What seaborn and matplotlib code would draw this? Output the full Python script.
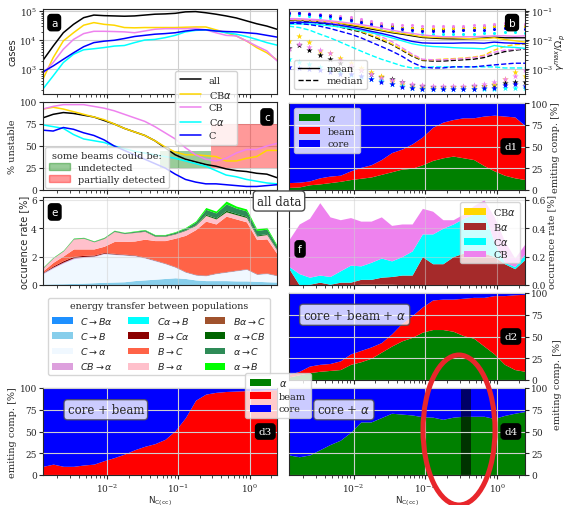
import matplotlib
matplotlib.use('Agg')
from matplotlib import pyplot as plt
from matplotlib.patches import Ellipse, Patch
from matplotlib.lines import Line2D
import seaborn as sns
import numpy as np

sns.set_style('ticks')
plt.rcParams['font.family'] = ['DejaVu Serif']
plt.rcParams['font.size'] = 7
plt.rcParams['xtick.labelsize'] = 6.5
plt.rcParams['ytick.labelsize'] = 6.5
plt.rcParams['xtick.major.size'] = 3
plt.rcParams['ytick.major.size'] = 3
plt.rcParams['xtick.minor.size'] = 1.8
plt.rcParams['ytick.minor.size'] = 1.8
plt.rcParams['xtick.major.pad'] = 1.5
plt.rcParams['ytick.major.pad'] = 1.5
plt.rcParams['legend.fontsize'] = 7
plt.rcParams['axes.labelpad'] = 1.5
plt.rcParams['grid.color'] = '#cfcfcf'
plt.rcParams['grid.linewidth'] = 0.8

# ---- data -------------------------------------------------------------
nc = [0.00126, 0.00175, 0.00243, 0.00338, 0.00469, 0.00652, 0.00906, 0.0126,
      0.0175, 0.0243, 0.0338, 0.0469, 0.0652, 0.0906, 0.126, 0.175, 0.243,
      0.338, 0.469, 0.652, 0.906, 1.26, 1.75, 2.43]

pops = ['all', 'CB$\\alpha$', 'CB', 'C$\\alpha$', 'C']
pop_colors = ['black', 'gold', 'violet', 'cyan', 'blue']

# (a) number of cases
cases_all = [2040, 6300, 18200, 35500, 60300, 74100, 70800, 69200, 67600, 69200, 74100, 79400,
             81300, 85100, 95500, 97700, 89100, 79400, 69200, 58900, 46800, 37200, 30900, 24000]
cases_CBa = [460, 2500, 9500, 18200, 33100, 40700, 35500, 33100, 27500, 26900, 27500, 27500,
             27500, 27500, 28200, 28800, 28800, 22900, 18200, 14100, 9500, 5600, 3700, 2100]
cases_CB = [720, 1700, 4900, 10700, 17000, 20400, 20400, 20000, 19500, 18200, 20900, 24000,
            25100, 25100, 25100, 25700, 22900, 18200, 14800, 14100, 9500, 6300, 4300, 1950]
cases_Ca = [210, 590, 1700, 3300, 4700, 5100, 5600, 6300, 6600, 8300, 10200, 10700,
            12300, 14800, 19500, 21900, 22900, 20900, 18200, 16200, 13500, 10700, 8300, 6800]
cases_C = [810, 1300, 2200, 3700, 6000, 8300, 9300, 10000, 11500, 13500, 14800, 16200,
           17000, 18200, 20900, 22900, 22900, 20900, 20000, 19500, 18200, 17000, 14800, 12900]

# (b) growth rate gamma_max / Omega_p : mean, median, max (dots), min (stars)
g_mean_all = [0.050, 0.049, 0.047, 0.044, 0.040, 0.036, 0.032, 0.028, 0.024, 0.021, 0.018, 0.016,
              0.014, 0.0123, 0.0117, 0.0112, 0.011, 0.011, 0.0112, 0.0117, 0.0126, 0.012, 0.012, 0.012]
g_mean_CBa = [0.052, 0.051, 0.049, 0.046, 0.042, 0.038, 0.034, 0.030, 0.026, 0.022, 0.019, 0.017,
              0.015, 0.013, 0.0125, 0.012, 0.012, 0.0115, 0.011, 0.0112, 0.012, 0.0105, 0.0095, 0.0085]
g_mean_CB = [0.055, 0.054, 0.052, 0.050, 0.046, 0.042, 0.038, 0.034, 0.030, 0.026, 0.022, 0.019,
             0.017, 0.015, 0.014, 0.013, 0.013, 0.013, 0.013, 0.0135, 0.014, 0.014, 0.0135, 0.014]
g_mean_Ca = [0.035, 0.036, 0.036, 0.034, 0.031, 0.028, 0.025, 0.021, 0.018, 0.015, 0.012, 0.0095,
             0.0075, 0.0065, 0.006, 0.0058, 0.0055, 0.0053, 0.0052, 0.0050, 0.0065, 0.0058, 0.0056, 0.0052]
g_mean_C = [0.040, 0.041, 0.041, 0.039, 0.036, 0.032, 0.028, 0.024, 0.020, 0.017, 0.014, 0.011,
            0.0090, 0.0080, 0.0078, 0.0078, 0.0078, 0.0080, 0.0080, 0.0078, 0.0085, 0.0080, 0.0078, 0.0075]

g_med_all = [0.047, 0.046, 0.043, 0.038, 0.033, 0.028, 0.023, 0.019, 0.014, 0.010, 0.0071, 0.0045,
             0.0028, 0.0020, 0.0019, 0.0019, 0.0020, 0.0021, 0.0022, 0.0025, 0.0032, 0.0040, 0.0045, 0.0049]
g_med_CBa = [0.050, 0.049, 0.046, 0.041, 0.036, 0.030, 0.025, 0.020, 0.015, 0.011, 0.0075, 0.0048,
             0.0030, 0.0021, 0.0021, 0.0022, 0.0023, 0.0024, 0.0026, 0.0030, 0.0045, 0.0060, 0.0070, 0.0072]
g_med_CB = [0.052, 0.051, 0.049, 0.045, 0.040, 0.034, 0.028, 0.023, 0.018, 0.013, 0.0090, 0.0055,
            0.0033, 0.0022, 0.0021, 0.0021, 0.0022, 0.0023, 0.0025, 0.0028, 0.0038, 0.0045, 0.0048, 0.0050]
g_med_Ca = [0.030, 0.027, 0.022, 0.016, 0.012, 0.0085, 0.0060, 0.0042, 0.0030, 0.0022, 0.0017, 0.0013,
            0.0011, 0.0011, 0.0012, 0.0012, 0.0012, 0.0012, 0.0012, 0.0012, 0.0012, 0.0011, 0.0011, 0.0011]
g_med_C = [0.038, 0.037, 0.034, 0.030, 0.025, 0.020, 0.016, 0.012, 0.0085, 0.006, 0.0042, 0.0028,
           0.0017, 0.0012, 0.0011, 0.0011, 0.0012, 0.0012, 0.0012, 0.0013, 0.0014, 0.0015, 0.0016, 0.0016]

g_max_all = [0.085, 0.085, 0.080, 0.075, 0.070, 0.062, 0.055, 0.047, 0.040, 0.035, 0.030, 0.027,
             0.025, 0.024, 0.024, 0.024, 0.025, 0.026, 0.026, 0.028, 0.030, 0.031, 0.031, 0.031]
g_max_CBa = [0.080, 0.080, 0.076, 0.072, 0.066, 0.060, 0.052, 0.045, 0.038, 0.033, 0.029, 0.027,
             0.025, 0.024, 0.025, 0.026, 0.027, 0.027, 0.027, 0.028, 0.030, 0.031, 0.031, 0.030]
g_max_CB = [0.090, 0.088, 0.085, 0.080, 0.075, 0.068, 0.060, 0.052, 0.045, 0.040, 0.036, 0.033,
            0.032, 0.031, 0.030, 0.030, 0.030, 0.031, 0.032, 0.034, 0.036, 0.038, 0.038, 0.037]
g_max_Ca = [0.075, 0.072, 0.068, 0.064, 0.058, 0.052, 0.045, 0.038, 0.032, 0.026, 0.022, 0.019,
            0.017, 0.016, 0.016, 0.016, 0.016, 0.016, 0.016, 0.017, 0.018, 0.019, 0.019, 0.018]
g_max_C = [0.085, 0.082, 0.078, 0.072, 0.066, 0.058, 0.050, 0.043, 0.036, 0.031, 0.027, 0.024,
           0.022, 0.021, 0.021, 0.021, 0.021, 0.022, 0.022, 0.023, 0.024, 0.025, 0.025, 0.024]

g_min_all = [0.0055, 0.0068, 0.0045, 0.0030, 0.0022, 0.0016, 0.0012, 0.0009, 0.0007, 0.00055, 0.00045, 0.00035,
             0.00029, 0.00026, 0.00025, 0.00025, 0.00025, 0.00025, 0.00026, 0.00027, 0.00029, 0.00033, 0.00036, 0.00036]
g_min_CBa = [0.0095, 0.014, 0.0083, 0.0043, 0.0035, 0.0025, 0.00166, 0.00112, 0.00079, 0.00056, 0.0004, 0.0003,
             0.00025, 0.00023, 0.00023, 0.00023, 0.00024, 0.00024, 0.00025, 0.00026, 0.00032, 0.00046, 0.0008, 0.00059]
g_min_CB = [0.0050, 0.0075, 0.0060, 0.0045, 0.0035, 0.0020, 0.0014, 0.00095, 0.0007, 0.0005, 0.00042, 0.00035,
            0.0003, 0.00028, 0.00027, 0.00027, 0.00027, 0.00027, 0.00028, 0.0003, 0.00035, 0.00045, 0.0006, 0.0009]
g_min_Ca = [0.0022, 0.0018, 0.0015, 0.0012, 0.0010, 0.0008, 0.00065, 0.00055, 0.00045, 0.00038, 0.00032, 0.00027,
            0.00022, 0.0002, 0.0002, 0.0002, 0.0002, 0.0002, 0.0002, 0.0002, 0.00021, 0.00022, 0.00022, 0.00022]
g_min_C = [0.0012, 0.0011, 0.0010, 0.0009, 0.0008, 0.0007, 0.0007, 0.0006, 0.00045, 0.00035, 0.0003, 0.00025,
           0.00022, 0.00021, 0.00021, 0.00021, 0.00021, 0.00021, 0.00021, 0.00022, 0.00023, 0.00028, 0.0003, 0.00026]

# (c) % unstable
unst_all = [82, 86, 88, 87, 85, 83, 79, 75, 70, 66, 62, 56, 48, 40, 35, 32, 29, 27, 24, 22, 21, 19, 18, 14]
unst_CBa = [92, 94, 92, 89, 86, 83, 80, 75, 70, 66, 62, 56, 49, 43, 40, 40, 39, 38, 33, 33, 36, 38, 45, 45]
unst_CB = [92, 95, 97, 97, 97, 95, 93, 90, 86, 82, 78, 72, 65, 58, 48, 40, 35, 33, 36, 42, 46, 46, 50, 53]
unst_Ca = [74, 72, 70, 63, 58, 56, 54, 50, 47, 44, 42, 40, 38, 36, 33, 30, 27, 22, 17, 15, 12, 10, 8, 7]
unst_C = [68, 67, 71, 69, 65, 62, 57, 50, 45, 40, 35, 30, 25, 18, 12, 9, 7, 7, 6, 5, 4, 4, 5, 6]
undetected_box = (0.056, 0.29, 25, 44)
partial_box = (0.29, 2.43, 25, 75)

# (d) emitting component [%]
d1_alpha = [3, 3.5, 6, 7, 8.5, 10, 12, 13.5, 15, 18, 21, 24, 25, 29, 34, 37, 39, 37, 35, 28, 22, 17, 14, 12]
d1_beam = [5.5, 5.5, 4.4, 7, 7.5, 7, 10, 12.5, 14, 17, 22, 23, 28, 32, 38, 41, 42, 46, 48, 57, 64, 68, 70, 62]
d2_alpha = [3.5, 6, 8.5, 10, 11, 12, 18, 21, 25, 32, 39, 45, 49, 55, 58, 58, 56, 51, 48, 39, 30, 18, 12, 10]
d2_beam = [3, 4, 7.5, 8, 8, 10, 12, 13, 13, 11, 14, 20, 25, 29, 34, 35, 37, 43, 47, 56, 67, 79, 86, 88.5]
d3_beam = [10, 12.5, 10, 10, 11.5, 12.5, 16.5, 20, 24, 29, 33, 36, 41, 51, 66, 86, 93, 95, 96, 96.5, 97, 97, 98, 98]
d4_alpha = [23, 21, 23, 29, 35, 40, 49, 61, 61, 66, 71, 70, 69, 67, 66.5, 64, 66.5, 67.5, 67.5, 67.5, 65, 68.5, 71, 73]
d4_band = (0.31, 0.43)

# (e) occurrence rate of energy transfer [%]
tr_labels = ['$C\\rightarrow B\\alpha$', '$C\\rightarrow B$', '$C\\rightarrow \\alpha$', '$CB\\rightarrow \\alpha$',
             '$C\\alpha\\rightarrow B$', '$B\\rightarrow C\\alpha$', '$B\\rightarrow C$', '$B\\rightarrow \\alpha$',
             '$B\\alpha\\rightarrow C$', '$\\alpha\\rightarrow CB$', '$\\alpha\\rightarrow C$', '$\\alpha\\rightarrow B$']
tr_colors = ['dodgerblue', 'skyblue', 'aliceblue', 'plum', 'cyan', 'darkred',
             'tomato', 'pink', 'sienna', 'darkgreen', 'seagreen', 'lime']
tr_C_Ba = [0.01, 0.01, 0.01, 0.01, 0.01, 0.01, 0.01, 0.01, 0.01, 0.01, 0.01, 0.01,
           0.01, 0.01, 0.01, 0.01, 0.01, 0.01, 0.01, 0.01, 0.01, 0.01, 0.01, 0.01]
tr_C_B = [0.05, 0.07, 0.08, 0.10, 0.12, 0.15, 0.18, 0.20, 0.22, 0.30, 0.35, 0.40,
          0.45, 0.50, 0.45, 0.35, 0.30, 0.30, 0.30, 0.28, 0.28, 0.25, 0.22, 0.20]
tr_C_a = [0.74, 1.12, 1.46, 1.74, 1.82, 1.84, 2.01, 1.94, 1.87, 1.74, 1.54, 1.29,
          1.04, 0.74, 0.44, 0.34, 0.34, 0.49, 0.59, 0.71, 0.81, 0.49, 0.57, 0.44]
tr_CB_a = [0.05, 0.06, 0.06, 0.06, 0.05, 0.04, 0.03, 0.03, 0.03, 0.03, 0.03, 0.03,
           0.02, 0.02, 0.02, 0.02, 0.02, 0.02, 0.02, 0.02, 0.02, 0.02, 0.02, 0.02]
tr_Ca_B = [0.01, 0.01, 0.01, 0.01, 0.01, 0.01, 0.01, 0.01, 0.01, 0.01, 0.01, 0.01,
           0.01, 0.01, 0.01, 0.01, 0.01, 0.01, 0.01, 0.01, 0.01, 0.01, 0.01, 0.01]
tr_B_Ca = [0.03, 0.08, 0.10, 0.10, 0.08, 0.06, 0.05, 0.04, 0.03, 0.03, 0.03, 0.02,
           0.02, 0.02, 0.02, 0.02, 0.02, 0.02, 0.02, 0.02, 0.02, 0.02, 0.02, 0.02]
tr_B_C = [0.11, 0.25, 0.33, 0.52, 0.45, 0.43, 0.44, 0.84, 0.90, 0.98, 1.26, 1.37,
          1.58, 2.00, 2.55, 3.15, 3.80, 3.45, 3.90, 3.60, 3.30, 2.40, 2.40, 1.50]
tr_B_a = [0.20, 0.30, 0.35, 0.70, 0.75, 0.50, 0.55, 0.70, 0.55, 0.60, 0.55, 0.30,
          0.30, 0.30, 0.35, 0.30, 0.40, 0.35, 0.30, 0.30, 0.30, 0.25, 0.30, 0.25]
tr_Ba_C = [0.01, 0.01, 0.01, 0.01, 0.01, 0.01, 0.01, 0.01, 0.01, 0.01, 0.01, 0.01,
           0.01, 0.01, 0.01, 0.01, 0.01, 0.01, 0.01, 0.01, 0.01, 0.01, 0.01, 0.01]
tr_a_CB = [0, 0, 0, 0, 0, 0, 0.01, 0.01, 0.01, 0.01, 0.02, 0.02,
           0.02, 0.02, 0.03, 0.04, 0.07, 0.07, 0.10, 0.08, 0.08, 0.06, 0.06, 0.05]
tr_a_C = [0.03, 0.03, 0.03, 0.04, 0.04, 0.04, 0.04, 0.05, 0.05, 0.06, 0.07, 0.07,
          0.07, 0.09, 0.12, 0.18, 0.35, 0.35, 0.45, 0.38, 0.38, 0.32, 0.32, 0.22]
tr_a_B = [0.02, 0.02, 0.02, 0.02, 0.02, 0.02, 0.02, 0.02, 0.02, 0.03, 0.03, 0.03,
          0.03, 0.04, 0.05, 0.08, 0.13, 0.13, 0.20, 0.14, 0.14, 0.12, 0.12, 0.08]

# (f) occurrence rate of multi-population instabilities [%]
f_labels = ['CB$\\alpha$', 'B$\\alpha$', 'C$\\alpha$', 'CB']
f_colors = ['gold', 'brown', 'cyan', 'violet']
f_CBa = [0, 0, 0, 0, 0, 0, 0, 0.005, 0.005, 0.005, 0.005, 0.003,
         0.003, 0, 0, 0, 0, 0, 0, 0, 0, 0, 0, 0]
f_Ba = [0.115, 0.0, 0.005, 0.02, 0.005, 0.02, 0.02, 0.035, 0.035, 0.05, 0.055, 0.067,
        0.067, 0.2, 0.15, 0.15, 0.2, 0.225, 0.24, 0.225, 0.2, 0.15, 0.115, 0.18]
f_Ca = [0.015, 0.08, 0.05, 0.05, 0.055, 0.08, 0.12, 0.095, 0.12, 0.135, 0.11, 0.13,
        0.17, 0.16, 0.21, 0.25, 0.23, 0.245, 0.26, 0.295, 0.1, 0.01, 0.015, 0.04]
f_CB = [0.19, 0.35, 0.415, 0.51, 0.42, 0.36, 0.335, 0.315, 0.29, 0.29, 0.25, 0.23,
        0.19, 0.18, 0.16, 0.06, 0.03, 0.03, 0.06, 0.08, 0.18, 0.15, 0.06, 0.07]

# ---- figure -------------------------------------------------------------
W, H = 566, 506
fig = plt.figure(figsize=(W / 100, H / 100), dpi=100)


def px_axes(x0, y0, x1, y1):
    return fig.add_axes([x0 / W, 1 - y1 / H, (x1 - x0) / W, (y1 - y0) / H])


def tag(ax, x, y, s, sans=True):
    ax.text(x, y, s, transform=ax.transAxes, color='white', fontsize=7.5, ha='center', va='center',
            family='DejaVu Sans' if sans else 'DejaVu Serif', zorder=10,
            bbox=dict(boxstyle='round,pad=0.3', fc='black', ec='black'))


def base(ax, right=False, bottom_labels=False):
    ax.set_xscale('log')
    ax.set_xlim(nc[0], nc[-1])
    ax.grid(True, which='major')
    if not bottom_labels:
        ax.tick_params(axis='x', which='both', labelbottom=False)
    if right:
        ax.yaxis.tick_right()
        ax.yaxis.set_label_position('right')


ax_a = px_axes(43, 10, 277, 95)
ax_b = px_axes(289, 10, 525, 95)
ax_c = px_axes(43, 103, 277, 191)
ax_d1 = px_axes(289, 104, 525, 191)
ax_e = px_axes(43, 198, 277, 286)
ax_f = px_axes(289, 198, 525, 286)
ax_d2 = px_axes(289, 294, 525, 381)
ax_d3 = px_axes(43, 389, 277, 476)
ax_d4 = px_axes(289, 389, 525, 476)

# (a)
base(ax_a)
for lab, col, vals in zip(pops, pop_colors, [cases_all, cases_CBa, cases_CB, cases_Ca, cases_C]):
    sns.lineplot(x=nc, y=vals, ax=ax_a, color=col, lw=1.1, label=lab, legend=False)
ax_a.set_yscale('log')
ax_a.set_ylim(140, 1.2e5)
ax_a.set_ylabel('cases', family='DejaVu Sans')
tag(ax_a, 0.048, 0.84, 'a')
h, l = ax_a.get_legend_handles_labels()
if ax_a.get_legend():
    ax_a.get_legend().remove()
fig.legend(h, l, loc='upper left', bbox_to_anchor=(170 / W, 1 - 67 / H), fontsize=7,
           handlelength=2.2, borderpad=0.5, labelspacing=0.4, framealpha=0.85)

# (b)
base(ax_b, right=True)
b_means = [g_mean_all, g_mean_CBa, g_mean_CB, g_mean_Ca, g_mean_C]
b_meds = [g_med_all, g_med_CBa, g_med_CB, g_med_Ca, g_med_C]
b_maxs = [g_max_all, g_max_CBa, g_max_CB, g_max_Ca, g_max_C]
b_mins = [g_min_all, g_min_CBa, g_min_CB, g_min_Ca, g_min_C]
for col, mn, md, mx, mi in zip(pop_colors, b_means, b_meds, b_maxs, b_mins):
    sns.lineplot(x=nc, y=mn, ax=ax_b, color=col, lw=1.0, legend=False)
    sns.lineplot(x=nc, y=md, ax=ax_b, color=col, lw=1.0, ls='--', legend=False)
    sns.scatterplot(x=nc, y=mx, ax=ax_b, color=col, marker='o', s=5, linewidth=0, legend=False)
    sns.scatterplot(x=nc, y=mi, ax=ax_b, color=col, marker='*', s=22, linewidth=0, legend=False)
ax_b.set_yscale('log')
ax_b.set_ylim(1.4e-4, 0.117)
ax_b.set_ylabel('$\\gamma^{max}/\\Omega_p$', family='DejaVu Sans', fontsize=6.8, labelpad=0.5)
tag(ax_b, 0.945, 0.84, 'b')
ax_b.legend(handles=[Line2D([], [], color='black', lw=1, label='mean'),
                     Line2D([], [], color='black', lw=1, ls='--', label='median')],
            loc='lower left', fontsize=7, handlelength=2.2, borderpad=0.4, labelspacing=0.3)

# (c)
base(ax_c)
for lab, col, vals in zip(pops, pop_colors, [unst_all, unst_CBa, unst_CB, unst_Ca, unst_C]):
    sns.lineplot(x=nc, y=vals, ax=ax_c, color=col, lw=1.1, legend=False)
ax_c.fill_between(undetected_box[:2], undetected_box[2], undetected_box[3], color='green', alpha=0.4, lw=0)
ax_c.fill_between(partial_box[:2], partial_box[2], partial_box[3], color='red', alpha=0.4, lw=0)
ax_c.set_ylim(0, 100)
ax_c.set_yticks([0, 25, 50, 75, 100])
ax_c.set_ylabel('% unstable')
tag(ax_c, 0.957, 0.83, 'c')
ax_c.legend(handles=[Patch(color='green', alpha=0.4, label='undetected'),
                     Patch(color='red', alpha=0.4, label='partially detected')],
            title='some beams could be:', title_fontsize=7, loc='lower left', fontsize=7,
            handlelength=2.2, borderpad=0.4, labelspacing=0.3, borderaxespad=0.2)

comp_colors = ['green', 'red', 'blue']
comp_labels = ['$\\alpha$', 'beam', 'core']


def comp_panel(ax, layers, colors, labels, right=True, bottom_labels=False):
    ax.stackplot(nc, *layers, colors=colors, labels=labels, lw=0)
    base(ax, right=right, bottom_labels=bottom_labels)
    ax.set_axisbelow(False)
    ax.set_ylim(0, 100)
    ax.set_yticks([0, 25, 50, 75, 100])


# (d1)
d1_core = [100 - a - b for a, b in zip(d1_alpha, d1_beam)]
comp_panel(ax_d1, [d1_alpha, d1_beam, d1_core], comp_colors, comp_labels)
ax_d1.set_ylabel('emiting comp. [%]')
tag(ax_d1, 0.94, 0.5, 'd1', sans=False)
ax_d1.legend(loc='upper left', fontsize=7, handlelength=2.2, borderpad=0.5, labelspacing=0.4)

# (e)
ax_e.stackplot(nc, tr_C_Ba, tr_C_B, tr_C_a, tr_CB_a, tr_Ca_B, tr_B_Ca, tr_B_C, tr_B_a,
               tr_Ba_C, tr_a_CB, tr_a_C, tr_a_B, colors=tr_colors, labels=tr_labels, lw=0)
base(ax_e)
ax_e.set_axisbelow(False)
ax_e.grid(True, alpha=0.5)
ax_e.set_ylim(0, 6.2)
ax_e.set_yticks([0, 2, 4, 6])
ax_e.set_ylabel('occurence rate [%]', family='DejaVu Sans')
tag(ax_e, 0.05, 0.83, 'e')
h, l = ax_e.get_legend_handles_labels()
fig.legend(h, l, ncol=3, loc='upper center', bbox_to_anchor=(159 / W, 1 - 294 / H),
           title='energy transfer between populations', title_fontsize=6.8, fontsize=6.8,
           handlelength=2.2, columnspacing=1.6, labelspacing=0.45, borderpad=0.4)

# (f)
ax_f.stackplot(nc, f_CBa, f_Ba, f_Ca, f_CB, colors=f_colors, labels=f_labels, lw=0)
base(ax_f, right=True)
ax_f.set_axisbelow(False)
ax_f.grid(True, alpha=0.5)
ax_f.set_ylim(0, 0.62)
ax_f.set_yticks([0.0, 0.2, 0.4, 0.6])
ax_f.set_ylabel('occurence rate [%]')
tag(ax_f, 0.047, 0.41, 'f')
ax_f.legend(loc='upper right', fontsize=7, handlelength=2.2, borderpad=0.4, labelspacing=0.4)

# (d2)
d2_core = [100 - a - b for a, b in zip(d2_alpha, d2_beam)]
comp_panel(ax_d2, [d2_alpha, d2_beam, d2_core], comp_colors, comp_labels)
tag(ax_d2, 0.94, 0.5, 'd2', sans=False)

# (d3)
d3_core = [100 - b for b in d3_beam]
comp_panel(ax_d3, [d3_beam, d3_core], ['red', 'blue'], ['beam', 'core'], right=False, bottom_labels=True)
ax_d3.set_ylabel('emiting comp. [%]')
ax_d3.set_xlabel('N$_{\\rm C(cc)}$', family='DejaVu Sans', fontsize=6.3, labelpad=0)
tag(ax_d3, 0.95, 0.5, 'd3', sans=False)

# (d4)
d4_core = [100 - a for a in d4_alpha]
comp_panel(ax_d4, [d4_alpha, d4_core], ['green', 'blue'], ['$\\alpha$', 'core'], bottom_labels=True)
ax_d4.axvspan(*d4_band, color='black', alpha=0.6, lw=0)
ax_d4.set_xlabel('N$_{\\rm C(cc)}$', family='DejaVu Sans', fontsize=6.3, labelpad=0)
tag(ax_d4, 0.94, 0.5, 'd4', sans=False)

box = dict(boxstyle='round,pad=0.3', fc='white', ec='0.3', alpha=0.8)
for ax, xpos, s in [(ax_d2, 0.06, 'core + beam + $\\alpha$'), (ax_d3, 0.105, 'core + beam'),
                    (ax_d4, 0.12, 'core + $\\alpha$')]:
    ax.text(xpos, 0.75, s, transform=ax.transAxes, fontsize=8.5, va='center', bbox=box, zorder=10)

fig.text(558 / W, 1 - 385 / H, 'emiting comp. [%]', rotation=90, ha='center', va='center', fontsize=7)

h, l = ax_d1.get_legend_handles_labels()
fig.legend(h, l, loc='upper left', bbox_to_anchor=(240 / W, 1 - 369 / H), fontsize=7,
           handlelength=2.2, borderpad=0.5, labelspacing=0.4)

fig.text(279 / W, 1 - 202 / H, 'all data', ha='center', va='center', fontsize=8.5,
         bbox=dict(boxstyle='round,pad=0.3', fc='white', ec='0.3'))

fig.patches.append(Ellipse((459 / W, 1 - 431 / H), 72 / W, 150 / H, transform=fig.transFigure,
                           fill=False, ec='#e8262b', lw=3.6))

fig.savefig('out.png', dpi=100)
